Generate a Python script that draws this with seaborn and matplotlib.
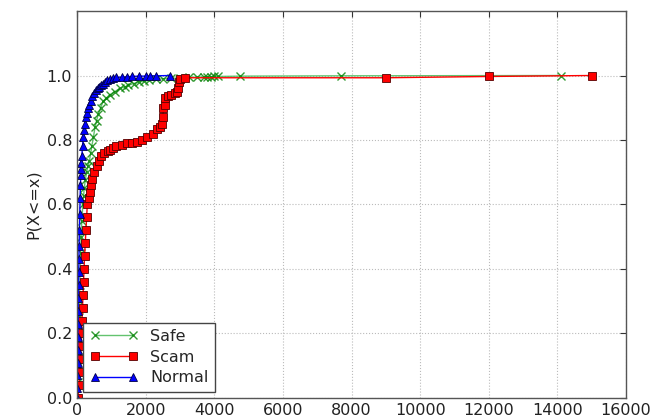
import matplotlib
matplotlib.use("Agg")
import matplotlib.pyplot as plt
import numpy as np
import seaborn as sns

safe_x = [5, 15, 30, 40, 50, 60, 70, 80, 90, 105, 120, 140, 170, 190, 210, 240, 280, 320,
          360, 400, 430, 480, 525, 570, 620, 690, 760, 850, 950, 1100, 1250, 1400, 1500,
          1650, 1800, 1950, 2100, 2300, 2500, 2750, 3000, 3250, 3500, 3700, 3800, 3900,
          4000, 4100, 4760, 7680, 14100]
safe_y = [0.0, 0.05, 0.1, 0.15, 0.2, 0.25, 0.3, 0.35, 0.4, 0.45, 0.5, 0.55, 0.6, 0.625,
          0.65, 0.675, 0.7, 0.72, 0.735, 0.76, 0.78, 0.81, 0.84, 0.86, 0.88, 0.9, 0.92,
          0.93, 0.94, 0.95, 0.96, 0.965, 0.97, 0.975, 0.98, 0.982, 0.985, 0.988, 0.99,
          0.991, 0.993, 0.994, 0.995, 0.9955, 0.996, 0.9965, 0.997, 0.997, 0.998, 0.999, 1.0]

scam_x = [30, 60, 80, 100, 115, 130, 145, 160, 175, 190, 205, 220, 240, 260, 280, 300,
          340, 380, 420, 450, 500, 575, 640, 700, 800, 900, 960, 1050, 1150, 1300, 1460,
          1600, 1750, 1900, 2040, 2200, 2340, 2420, 2480, 2500, 2520, 2550, 2570, 2660,
          2750, 2860, 2920, 2950, 2960, 3000, 3150, 9000, 12000, 15000]
scam_y = [0.0, 0.04, 0.08, 0.12, 0.16, 0.2, 0.24, 0.28, 0.32, 0.36, 0.4, 0.44, 0.48, 0.52,
          0.56, 0.6, 0.62, 0.64, 0.66, 0.68, 0.7, 0.72, 0.735, 0.75, 0.76, 0.765, 0.77,
          0.775, 0.78, 0.785, 0.79, 0.792, 0.795, 0.8, 0.81, 0.82, 0.835, 0.84, 0.85,
          0.87, 0.9, 0.91, 0.93, 0.935, 0.94, 0.945, 0.95, 0.96, 0.98, 0.99, 0.993, 0.993,
          0.997, 1.0]

normal_x = [0, 5, 10, 15, 20, 25, 30, 35, 40, 45, 50, 55, 60, 70, 80, 90, 100, 110, 120,
            130, 140, 160, 180, 200, 230, 260, 290, 320, 360, 400, 450, 500, 550, 600,
            650, 700, 760, 820, 880, 960, 1050, 1150, 1300, 1450, 1600, 1800, 2000, 2130,
            2300, 2720]
normal_y = [0.0, 0.03, 0.07, 0.11, 0.15, 0.19, 0.23, 0.27, 0.31, 0.35, 0.39, 0.43, 0.47,
            0.52, 0.57, 0.62, 0.66, 0.69, 0.71, 0.73, 0.75, 0.78, 0.81, 0.83, 0.85, 0.87,
            0.885, 0.9, 0.91, 0.92, 0.935, 0.945, 0.955, 0.96, 0.965, 0.97, 0.975, 0.98,
            0.985, 0.99, 0.992, 0.994, 0.995, 0.996, 0.997, 0.998, 0.998, 0.999, 0.999, 1.0]

x_ticks = [0, 2000, 4000, 6000, 8000, 10000, 12000, 14000, 16000]
y_ticks = [0.0, 0.2, 0.4, 0.6, 0.8, 1.0]

sns.set_style("white")
plt.rcParams["font.family"] = ["DejaVu Sans"]

fig = plt.figure(figsize=(6.72, 4.2), dpi=100)
ax = fig.add_axes([0.1146, 0.0524, 0.817, 0.9214])

sns.lineplot(x=safe_x, y=safe_y, ax=ax, estimator=None, sort=False,
             color="#3cb44b", alpha=0.8, lw=1, marker="x", markersize=6,
             mec="green", mew=1, label="Safe")
sns.lineplot(x=scam_x, y=scam_y, ax=ax, estimator=None, sort=False,
             color="red", lw=1, marker="s", markersize=6,
             mec="#550000", mew=0.6, label="Scam")
sns.lineplot(x=normal_x, y=normal_y, ax=ax, estimator=None, sort=False,
             color="blue", lw=1, marker="^", markersize=6,
             mec="#000044", mew=0.6, label="Normal")

ax.set_xlim(0, 16000)
ax.set_ylim(0, 1.2)
ax.set_xticks(x_ticks)
ax.set_yticks(y_ticks)
ax.tick_params(direction="in", top=True, right=True, labelsize=11.5, length=4,
               colors="#333333", labelcolor="#222222")
ax.grid(True, ls=":", color="#bbbbbb", lw=0.8)
for s in ax.spines.values():
    s.set_color("#555555")
    s.set_linewidth(1)
ax.set_xlabel("")
ax.set_ylabel("P(X<=x)", fontsize=11.5, color="#222222")

leg = ax.legend(loc="lower left", numpoints=2, fancybox=False, fontsize=11.5,
                edgecolor="#444444", framealpha=1, handlelength=3.0,
                borderaxespad=0.4, labelspacing=0.35)
leg.get_frame().set_linewidth(1)

fig.savefig("out.png", dpi=100)
